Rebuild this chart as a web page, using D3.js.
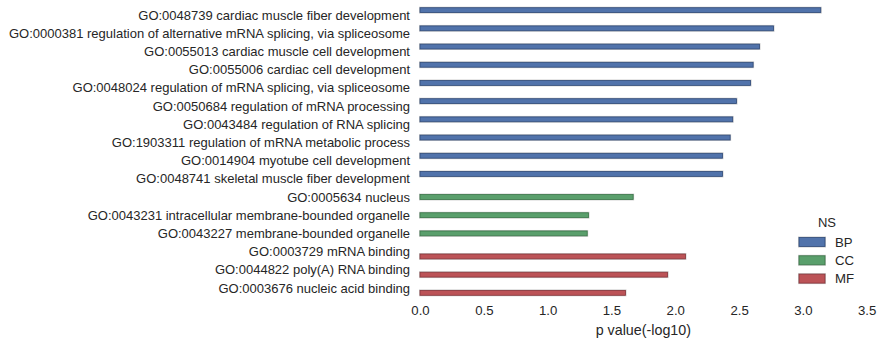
<!DOCTYPE html>
<html lang="en">
<head>
<meta charset="UTF-8">
<title>GO enrichment</title>
<script src="https://cdn.jsdelivr.net/npm/d3@7"></script>
<style>
  body { margin: 0; background: #fff; }
  svg { display: block; font-family: "Liberation Sans", Arial, sans-serif; }
  text { fill: #262626; }
</style>
</head>
<body>
<script>
'use strict';

// GO terms, top to bottom
var terms = [
  'GO:0048739 cardiac muscle fiber development',
  'GO:0000381 regulation of alternative mRNA splicing, via spliceosome',
  'GO:0055013 cardiac muscle cell development',
  'GO:0055006 cardiac cell development',
  'GO:0048024 regulation of mRNA splicing, via spliceosome',
  'GO:0050684 regulation of mRNA processing',
  'GO:0043484 regulation of RNA splicing',
  'GO:1903311 regulation of mRNA metabolic process',
  'GO:0014904 myotube cell development',
  'GO:0048741 skeletal muscle fiber development',
  'GO:0005634 nucleus',
  'GO:0043231 intracellular membrane-bounded organelle',
  'GO:0043227 membrane-bounded organelle',
  'GO:0003729 mRNA binding',
  'GO:0044822 poly(A) RNA binding',
  'GO:0003676 nucleic acid binding'
];
var namespaces = ['BP', 'BP', 'BP', 'BP', 'BP', 'BP', 'BP', 'BP', 'BP', 'BP',
                  'CC', 'CC', 'CC', 'MF', 'MF', 'MF'];
var pvalues = [3.14, 2.77, 2.66, 2.61, 2.59, 2.48, 2.45, 2.43, 2.37, 2.37,
               1.67, 1.32, 1.31, 2.08, 1.94, 1.61];
var nsList = ['BP', 'CC', 'MF'];
var xTicks = [0, 0.5, 1, 1.5, 2, 2.5, 3, 3.5];

var W = 882, H = 345;
var padL = 420, padR = 866.7, padT = 5.9, padB = 297.1;

var svg = d3.select('body').append('svg')
  .attr('width', W).attr('height', H);

var x = d3.scaleLinear().domain([0, 3.5]).range([padL, padR]);
var y = d3.scaleBand().domain(d3.range(terms.length)).range([padT, padB]);
// hue dodge inside each row, like seaborn
var hue = d3.scaleBand().domain(nsList).range([0.1, 0.9]);
var color = d3.scaleOrdinal().domain(nsList).range(['#5173ab', '#5a9f6c', '#bc5357']);
var edge = d3.scaleOrdinal().domain(nsList).range(['#2f4a78', '#3a7548', '#86353a']);

var rows = terms.map(function (t, i) {
  return { term: t, ns: namespaces[i], p: pvalues[i], i: i };
});

var bh = hue.bandwidth() * y.bandwidth();
var bars = svg.append('g').selectAll('g').data(rows).enter().append('g');

bars.append('rect')
  .attr('x', x(0) - 1)
  .attr('y', function (d) { return y(d.i) + hue(d.ns) * y.bandwidth() - 1; })
  .attr('width', function (d) { return x(d.p) - x(0) + 2; })
  .attr('height', bh + 2)
  .attr('fill', '#cccccc');

bars.append('rect')
  .attr('x', x(0))
  .attr('y', function (d) { return y(d.i) + hue(d.ns) * y.bandwidth(); })
  .attr('width', function (d) { return x(d.p) - x(0); })
  .attr('height', bh)
  .attr('fill', function (d) { return color(d.ns); })
  .attr('stroke', function (d) { return edge(d.ns); })
  .attr('stroke-width', 0.8);

// term labels
svg.append('g').selectAll('text').data(rows).enter().append('text')
  .attr('x', padL - 10)
  .attr('y', function (d) { return y(d.i) + y.bandwidth() / 2; })
  .attr('dy', '0.35em')
  .attr('text-anchor', 'end')
  .style('font-size', '13px')
  .text(function (d) { return d.term; });

// x axis, no spine or tick lines
var xAxis = svg.append('g')
  .attr('transform', 'translate(0,' + padB + ')')
  .call(d3.axisBottom(x).tickValues(xTicks).tickFormat(d3.format('.1f')).tickSize(0).tickPadding(9));
xAxis.select('.domain').remove();
xAxis.selectAll('text')
  .attr('fill', '#262626')
  .style('font-size', '13.2px')
  .style('font-family', '"Liberation Sans", Arial, sans-serif');

svg.append('text')
  .attr('x', (padL + padR) / 2)
  .attr('y', 335)
  .attr('text-anchor', 'middle')
  .style('font-size', '14.3px')
  .text('p value(-log10)');

// legend
var lg = svg.append('g').attr('transform', 'translate(799,227)');
lg.append('text')
  .attr('x', 28).attr('y', 0)
  .attr('text-anchor', 'middle')
  .style('font-size', '13px')
  .text('NS');
var item = lg.selectAll('.item').data(nsList).enter().append('g')
  .attr('transform', function (d, i) { return 'translate(0,' + (10.5 + i * 18.3) + ')'; });
item.append('rect')
  .attr('x', -1).attr('y', -1).attr('width', 28).attr('height', 11)
  .attr('fill', '#cccccc');
item.append('rect')
  .attr('width', 26).attr('height', 9)
  .attr('fill', function (d) { return color(d); })
  .attr('stroke', function (d) { return edge(d); })
  .attr('stroke-width', 0.8);
item.append('text')
  .attr('x', 36).attr('y', 4.5).attr('dy', '0.35em')
  .style('font-size', '13.2px')
  .text(function (d) { return d; });
</script>
</body>
</html>
